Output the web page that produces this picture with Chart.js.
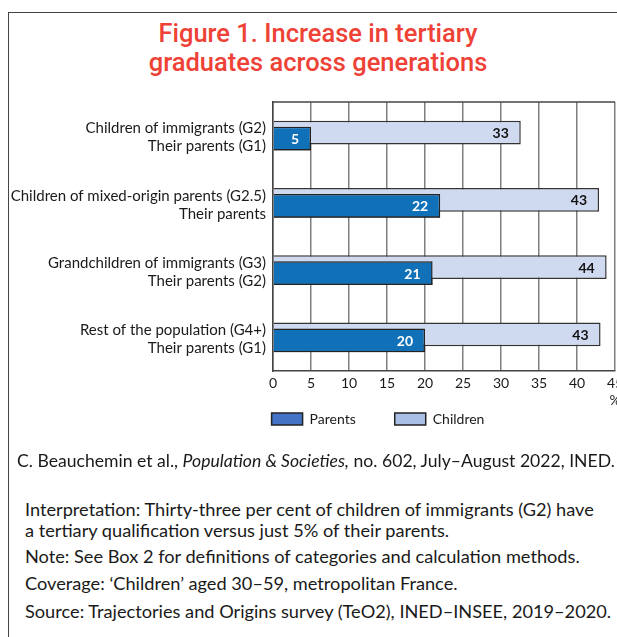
<!DOCTYPE html>
<html><head><meta charset="utf-8">
<script src="https://cdn.jsdelivr.net/npm/chart.js@4"></script>
<style>
html,body{margin:0;padding:0;background:#fff;overflow:hidden;width:617px;height:637px;}
#wrap{position:relative;width:617px;height:637px;overflow:hidden;}
#frame{position:absolute;left:8px;top:12px;width:700px;height:700px;border-left:1px solid #444;border-top:1px solid #444;}
#title{position:absolute;left:0;width:636px;top:19px;text-align:center;font-family:Roboto;font-weight:500;font-size:25.5px;line-height:29px;color:#ee4237;}
#chart{position:absolute;left:0;top:0;}
.note{position:absolute;font-family:Lato;font-size:18.2px;color:#1a1a1a;white-space:nowrap;line-height:20px;}
</style></head>
<body><div id="wrap">
<div id="frame"></div>
<div id="title">Figure 1. Increase in tertiary<br>graduates across generations</div>
<canvas id="chart" width="640" height="480" style="width:640px;height:480px"></canvas>
<div class="note" style="left:17px;top:451px;font-size:17.6px">C. Beauchemin et al., <i>Population &amp; Societies,</i> no. 602, July–August 2022, INED.</div>
<div class="note" style="left:25px;top:499px;line-height:21px">Interpretation: Thirty-three per cent of children of immigrants (G2) have<br>a tertiary qualification versus just 5% of their parents.</div>
<div class="note" style="left:25px;top:546px">Note: See Box 2 for definitions of categories and calculation methods.</div>
<div class="note" style="left:25px;top:573px">Coverage: ‘Children’ aged 30–59, metropolitan France.</div>
<div class="note" style="left:25px;top:601px">Source: Trajectories and Origins survey (TeO2), INED–INSEE, 2019–2020.</div>
</div>
<script>
const categories = [
  ['Children of immigrants (G2)', 'Their parents (G1)'],
  ['Children of mixed-origin parents (G2.5)', 'Their parents'],
  ['Grandchildren of immigrants (G3)', 'Their parents (G2)'],
  ['Rest of the population (G4+)', 'Their parents (G1)']
];
const childrenValues = [32.6, 42.9, 43.9, 43.1];
const parentsValues = [5, 22, 21, 20];
const xTicks = [0, 5, 10, 15, 20, 25, 30, 35, 40, 45];
const xUnit = '%';
const seriesNames = { parents: 'Parents', children: 'Children' };
const barColors = { parents: '#1071b9', children: '#cfd9ef' };
const legendColors = { Parents: '#4472c4', Children: '#a9bfe6' };
const labelColors = { parents: '#ffffff', children: '#111111' };

// parents bars sit in front of children bars
const frontBars = {
  id: 'frontBars',
  afterDatasetsDraw(chart) {
    chart.data.datasets.forEach((ds, i) => {
      if (ds.front) chart.getDatasetMeta(i).controller.draw();
    });
  }
};
const valueLabels = {
  id: 'valueLabels',
  afterDatasetsDraw(chart) {
    const ctx = chart.ctx;
    ctx.save();
    ctx.font = 'bold 14px Lato';
    ctx.textAlign = 'right';
    ctx.textBaseline = 'middle';
    chart.data.datasets.forEach((ds, i) => {
      const meta = chart.getDatasetMeta(i);
      meta.data.forEach((el, j) => {
        ctx.fillStyle = ds.labelColor;
        ctx.fillText(String(Math.round(ds.data[j])), el.x - 12, el.y + 1);
      });
    });
    ctx.restore();
  }
};
const topFrame = {
  id: 'topFrame',
  beforeDatasetsDraw(chart) {
    const { ctx, chartArea } = chart;
    ctx.save();
    ctx.strokeStyle = '#444';
    ctx.lineWidth = 1.5;
    ctx.beginPath();
    ctx.moveTo(chartArea.left, chartArea.top);
    ctx.lineTo(chartArea.right, chartArea.top);
    ctx.stroke();
    ctx.restore();
  }
};
const legendPlace = {
  id: 'legendPlace',
  afterLayout(chart) {
    const lg = chart.legend;
    if (!lg) return;
    const h = lg.height;
    lg.left = 141;
    lg.right = chart.chartArea.right;
    lg.width = lg.right - lg.left;
    lg.top = chart.chartArea.bottom + 2;
    lg.bottom = lg.top + h;
  }
};

new Chart(document.getElementById('chart'), {
  type: 'bar',
  data: {
    labels: categories,
    datasets: [
      { label: seriesNames.children, data: childrenValues, backgroundColor: barColors.children,
        borderColor: '#333', borderWidth: 1.5, labelColor: labelColors.children },
      { label: seriesNames.parents, data: parentsValues, backgroundColor: barColors.parents,
        borderColor: '#222', borderWidth: 1.5, labelColor: labelColors.parents, front: true }
    ]
  },
  options: {
    indexAxis: 'y',
    responsive: false,
    animation: false,
    layout: { padding: { left: 0, right: 25, top: 102, bottom: 8 } },
    datasets: { bar: { categoryPercentage: 0.1784, barPercentage: 4 } },
    scales: {
      x: {
        min: 0, max: 45,
        afterBuildTicks(s) { s.ticks = xTicks.map(v => ({ value: v })); },
        ticks: {
          padding: 4,
          font: { family: 'Lato', size: 14, lineHeight: 1.2 },
          color: '#1a1a1a',
          callback: (v) => v === xTicks[xTicks.length - 1] ? [String(v), xUnit] : String(v)
        },
        grid: { color: '#7f7f7f', lineWidth: 1.5, drawTicks: false },
        border: { display: true, color: '#444', width: 1.5 },
        afterFit(s) { s.height = 38; }
      },
      y: {
        ticks: {
          padding: 7,
          labelOffset: 2,
          font: { family: 'Lato', size: 15, lineHeight: 18 / 15 },
          color: '#1a1a1a'
        },
        grid: { display: false, drawTicks: false },
        border: { display: true, color: '#444', width: 1.5 },
        afterFit(s) { s.width = 273; }
      }
    },
    plugins: {
      title: { display: false },
      tooltip: { enabled: false },
      legend: {
        position: 'bottom',
        reverse: true,
        labels: {
          boxWidth: 31, boxHeight: 12, padding: 39,
          font: { family: 'Lato', size: 14 },
          color: '#1a1a1a',
          generateLabels(chart) {
            const items = Chart.defaults.plugins.legend.labels.generateLabels(chart);
            items.forEach(it => { it.fillStyle = legendColors[it.text]; it.strokeStyle = '#222'; it.lineWidth = 1.5; });
            return items;
          }
        }
      }
    }
  },
  plugins: [frontBars, valueLabels, topFrame, legendPlace]
});
</script>
</body></html>
